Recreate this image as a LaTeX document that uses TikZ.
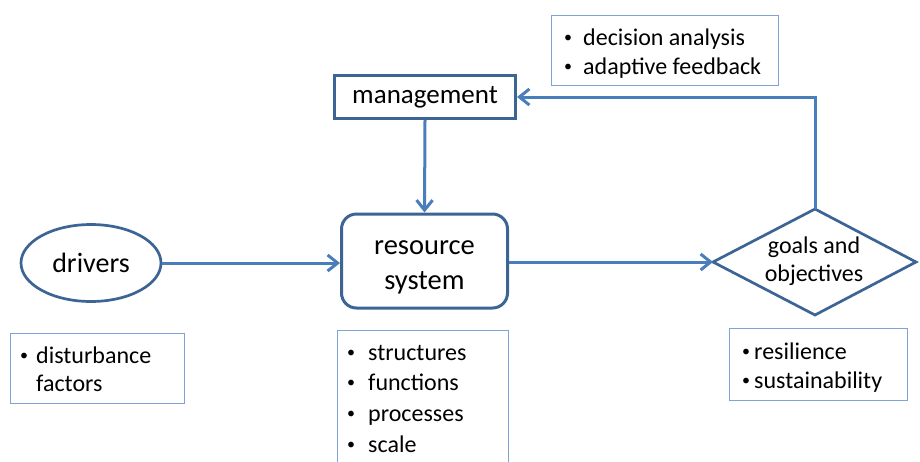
\documentclass[tikz,border=0pt]{standalone}
\usepackage{fontspec}
\setmainfont{Carlito}
\usetikzlibrary{arrows.meta,shapes.geometric}
\definecolor{dk}{HTML}{3C6494}
\definecolor{ln}{HTML}{4A7EBB}
\definecolor{lt}{HTML}{7FA4D4}
\newcommand{\bul}[1]{\makebox[#1][l]{\raisebox{0.12em}{\fontsize{16}{16}\selectfont\textbullet}}}
\tikzset{
  heavy/.style={draw=dk, line width=3pt, inner sep=0pt, align=center},
  listframe/.style={draw=lt, line width=1.2pt, anchor=north west, inner sep=0pt},
  listtext/.style={anchor=west, align=left, inner sep=0pt},
  conn/.style={draw=ln, line width=3pt, -{Straight Barb[length=10pt,width=16pt]}},
}
\begin{document}
\begin{tikzpicture}[x=1pt,y=-1pt]
\useasboundingbox (0,0) rectangle (920,461);
\fill[white] (0,0) rectangle (920,461);
\clip (0,0) rectangle (920,461);

% main nodes
\node[heavy, minimum width=181pt, minimum height=43pt, font=\fontsize{27}{32}\selectfont] (mgmt) at (425,97) {management};
\node[heavy, rounded corners=15pt, minimum width=166pt, minimum height=94pt] (res) at (424.5,261) {};
\node[align=center, inner sep=0pt, font=\fontsize{28.5}{35}\selectfont] (resTxt) at ([yshift=-6pt]res.center) {resource\\system};
\node[heavy, ellipse, line width=2.7pt, minimum width=140pt, minimum height=77pt, font=\fontsize{28}{34}\selectfont] (drivers) at (91,263) {drivers};

% diamond
\coordinate (gN) at (815,209);
\coordinate (gE) at (916,262);
\coordinate (gS) at (815,315);
\coordinate (gW) at (713,262);
\draw[draw=dk, line width=2.7pt, line join=miter] (gN) -- (gE) -- (gS) -- (gW) -- cycle;
\node[align=center, inner sep=0pt, font=\fontsize{24}{28}\selectfont] (goals) at (814,261) {goals and\\objectives};

% list boxes
\node[listframe, minimum width=227pt, minimum height=70pt] (decision) at (551,15) {};
\node[listtext, font=\fontsize{24}{29}\selectfont] (decisionTxt) at ([xshift=13pt,yshift=-3pt]decision.west)
  {\bul{19pt}decision analysis\\\bul{19pt}adaptive feedback};
\node[listframe, minimum width=174pt, minimum height=70pt] (disturb) at (10,333) {};
\node[listtext, font=\fontsize{24}{28}\selectfont] (disturbTxt) at ([xshift=10pt,yshift=-1pt]disturb.west)
  {\bul{16pt}disturbance\\\hspace*{16pt}factors};
\node[listframe, minimum width=171pt, minimum height=136pt] (struct) at (337,330) {};
\node[listtext, font=\fontsize{24}{30.7}\selectfont] (structTxt) at ([xshift=10pt]struct.west)
  {\bul{21pt}structures\\\bul{21pt}functions\\\bul{21pt}processes\\\bul{21pt}scale};
\node[listframe, minimum width=178pt, minimum height=72pt] (resil) at (729,328) {};
\node[listtext, font=\fontsize{24}{29}\selectfont] (resilTxt) at ([xshift=13pt,yshift=-3pt]resil.west)
  {\bul{12pt}resilience\\\bul{12pt}sustainability};

% connectors
\draw[conn] (mgmt.south) -- (res.north);
\draw[conn] (drivers.east) -- (drivers.east -| res.west);
\draw[conn] (res.east |- gW) -- (gW);
\draw[conn] (gN) -- (gN |- mgmt.east) -- (mgmt.east);
\end{tikzpicture}
\end{document}
